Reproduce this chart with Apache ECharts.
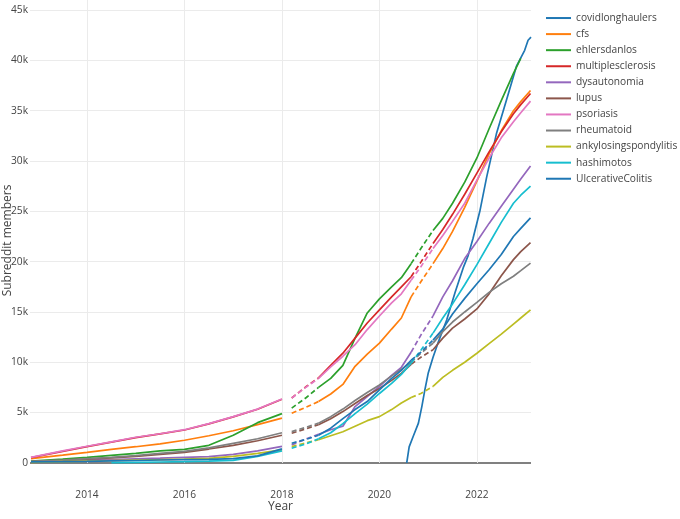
<!DOCTYPE html>
<html>
<head>
<meta charset="utf-8">
<script src="https://cdn.jsdelivr.net/npm/echarts@6/dist/echarts.min.js"></script>
<style>
  html, body { margin: 0; padding: 0; background: #fff; }
  #chart { width: 680px; height: 519px; }
</style>
</head>
<body>
<div id="chart"></div>
<script>
// ---- Data ----
const names = ['covidlonghaulers','cfs','ehlersdanlos','multiplesclerosis','dysautonomia','lupus','psoriasis','rheumatoid','ankylosingspondylitis','hashimotos','UlcerativeColitis'];

const years = [2012.85, 2013.5, 2014, 2014.5, 2015, 2015.5, 2016, 2016.5, 2017, 2017.5, 2018.0,
  2018.2, 2018.5, 2018.75, 2019.0, 2019.25, 2019.5, 2019.75, 2020.0, 2020.25, 2020.45,
  2020.65, 2020.85, 2021.1, 2021.3, 2021.5, 2021.75, 2022.0, 2022.25, 2022.5, 2022.75, 2022.9, 2023.1];

const cfs = [430, 770, 1050, 1340, 1610, 1900, 2250, 2700, 3200, 3800, 4450,
  4940, 5550, 6100, 6850, 7800, 9600, 10800, 11900, 13300, 14400,
  16500, 18000, 19800, 21300, 23000, 25400, 28000, 30700, 33000, 35000, 35900, 37000];
const ehlersdanlos = [180, 380, 550, 750, 950, 1200, 1350, 1750, 2750, 4000, 4900,
  5450, 6500, 7500, 8400, 9700, 12400, 14900, 16300, 17500, 18400,
  19800, 21300, 23100, 24300, 25800, 27900, 30300, 33200, 36000, 38700, 40200, null];
const multiplesclerosis = [520, 1150, 1620, 2060, 2520, 2880, 3270, 3880, 4580, 5330, 6320,
  6450, 7600, 8450, 9700, 10900, 12400, 13900, 15200, 16500, 17500,
  18500, 19950, 21800, 23200, 24700, 26700, 28800, 30900, 32900, 34700, 35600, 36700];
const dysautonomia = [100, 200, 270, 340, 410, 480, 560, 630, 850, 1200, 1650,
  1790, 2400, 2850, 3300, 3650, 5600, 6600, 7600, 8700, 9500,
  11000, 12700, 14600, 16500, 18100, 20300, 22000, 23800, 25500, 27200, 28200, 29500];
const lupus = [120, 250, 380, 510, 660, 840, 1050, 1380, 1750, 2200, 2750,
  2950, 3400, 3800, 4400, 5100, 5900, 6700, 7400, 8200, 8900,
  9800, 10500, 11250, 12400, 13400, 14300, 15300, 16800, 18600, 20200, 21000, 21900];
const psoriasis = [550, 1190, 1660, 2090, 2550, 2900, 3300, 3900, 4600, 5350, 6350,
  6450, 7550, 8400, 9550, 10600, 11750, 13250, 14600, 15900, 16800,
  18150, 19500, 21300, 22600, 24000, 25800, 28100, 30300, 32300, 33900, 34800, 35950];
const rheumatoid = [150, 280, 420, 560, 720, 950, 1150, 1500, 1950, 2400, 3000,
  3110, 3550, 3950, 4600, 5350, 6200, 7000, 7750, 8650, 9300,
  10000, 10900, 11900, 13050, 14000, 15000, 15950, 16950, 17800, 18550, 19100, 19850];
const ankylosingspondylitis = [60, 120, 170, 220, 270, 320, 380, 460, 650, 950, 1300,
  1620, 2000, 2300, 2700, 3100, 3650, 4200, 4600, 5300, 5950,
  6500, 6900, 7600, 8500, 9200, 10000, 10900, 11850, 12800, 13800, 14400, 15200];
const hashimotos = [null, null, null, 30, 60, 90, 120, 170, 250, 650, 1200,
  1460, 1900, 2400, 3000, 3900, 4900, 5850, 6900, 7900, 8800,
  9900, 11200, 12900, 14400, 15800, 17700, 19700, 21800, 23900, 25800, 26600, 27500];
const UlcerativeColitis = [100, 130, 160, 200, 240, 290, 320, 350, 430, 700, 1400,
  1960, 2350, 2750, 3450, 4400, 5300, 6100, 7250, 8400, 9200,
  10200, 11000, 12200, 13300, 14800, 16350, 17800, 19200, 20700, 22500, 23300, 24350];

const covidYears = [2020.56, 2020.61, 2020.69, 2020.8, 2020.87, 2020.93, 2021.0, 2021.1, 2021.2, 2021.38, 2021.55,
  2021.72, 2021.82, 2021.92, 2022.06, 2022.2, 2022.4, 2022.61, 2022.81, 2022.98, 2023.05, 2023.11];
const covidlonghaulers = [0, 1600, 2600, 3950, 5600, 7200, 8900, 10500, 11900, 14200, 16900,
  19400, 20600, 22300, 25000, 28400, 32700, 36100, 39400, 41000, 42000, 42300];

const xTicks = [2014, 2016, 2018, 2020, 2022];
const xTickLabels = ['2014', '2016', '2018', '2020', '2022'];
const yTicks = [0, 5000, 10000, 15000, 20000, 25000, 30000, 35000, 40000, 45000];
const yTickLabels = ['0', '5k', '10k', '15k', '20k', '25k', '30k', '35k', '40k', '45k'];

// ---- Build chart ----
const colors = ['#1f77b4','#ff7f0e','#2ca02c','#d62728','#9467bd','#8c564b','#e377c2','#7f7f7f','#bcbd22','#17becf','#1f77b4'];
const valueSets = { cfs, ehlersdanlos, multiplesclerosis, dysautonomia, lupus, psoriasis,
  rheumatoid, ankylosingspondylitis, hashimotos, UlcerativeColitis };

function inSolid(y) { return y <= 2018.0 || (y >= 2018.75 && y <= 2020.65) || y >= 2021.1; }
function inDashed(y) { return (y >= 2018.2 && y <= 2018.75) || (y >= 2020.65 && y <= 2021.1); }
function pick(vals, test) {
  return years.map((y, i) => [y, (test(y) && vals[i] != null) ? vals[i] : '-']);
}

const LW = 1.7;
const series = [];
names.forEach((name, idx) => {
  const color = colors[idx];
  if (name === 'covidlonghaulers') {
    series.push({
      name, type: 'line', symbol: 'none', color,
      lineStyle: { width: LW, color },
      data: covidYears.map((y, i) => [y, covidlonghaulers[i]])
    });
    return;
  }
  const vals = valueSets[name];
  series.push({
    name, type: 'line', symbol: 'none', color, connectNulls: false,
    lineStyle: { width: LW, color },
    data: pick(vals, inSolid)
  });
  series.push({
    name, type: 'line', symbol: 'none', color, connectNulls: false,
    lineStyle: { width: LW, color, type: [5, 3] },
    data: pick(vals, inDashed)
  });
});

const font = '"Open Sans", "DejaVu Sans", sans-serif';
const chart = echarts.init(document.getElementById('chart'), null, { renderer: 'canvas' });
chart.setOption({
  animation: false,
  backgroundColor: '#ffffff',
  textStyle: { fontFamily: font },
  grid: { left: 30, right: 149, top: 6, bottom: 44, containLabel: false, outerBoundsMode: 'none' },
  legend: {
    orient: 'vertical', left: 546, top: 10, padding: 0,
    icon: 'rect', itemWidth: 25, itemHeight: 2, itemGap: 0,
    data: names,
    textStyle: { color: '#444', fontSize: 10.2, lineHeight: 16.07, fontFamily: font }
  },
  xAxis: {
    type: 'value', min: 2012.83, max: 2023.11,
    name: 'Year', nameLocation: 'middle', nameGap: 26, nameMoveOverlap: false,
    nameTextStyle: { color: '#444', fontSize: 12, fontFamily: font },
    axisLine: { show: false },
    splitLine: { show: false },
    axisTick: { show: true, customValues: xTicks, inside: true, length: 469, lineStyle: { color: '#ebebeb', width: 1 } },
    axisLabel: { customValues: xTicks, margin: 15, color: '#444', fontSize: 10.2, fontFamily: font,
      formatter: v => xTickLabels[xTicks.indexOf(Math.round(v))] }
  },
  yAxis: [{
    type: 'value', min: -1200, max: 45400,
    name: 'Subreddit members', nameLocation: 'middle', nameGap: 16, nameMoveOverlap: false,
    nameTextStyle: { color: '#444', fontSize: 12, fontFamily: font },
    axisLine: { show: false },
    splitLine: { show: false },
    axisTick: { show: true, customValues: yTicks, inside: true, length: 501, lineStyle: { color: '#ebebeb', width: 1 } },
    axisLabel: { customValues: yTicks, margin: 2, color: '#444', fontSize: 10.2, fontFamily: font,
      formatter: v => yTickLabels[yTicks.indexOf(Math.round(v))] }
  }, {
    type: 'value', min: -1200, max: 45400, position: 'left',
    axisLine: { show: false }, splitLine: { show: false }, axisLabel: { show: false },
    axisTick: { show: true, customValues: [0], inside: true, length: 501, lineStyle: { color: '#808080', width: 2 } }
  }],
  series
});
</script>
</body>
</html>
